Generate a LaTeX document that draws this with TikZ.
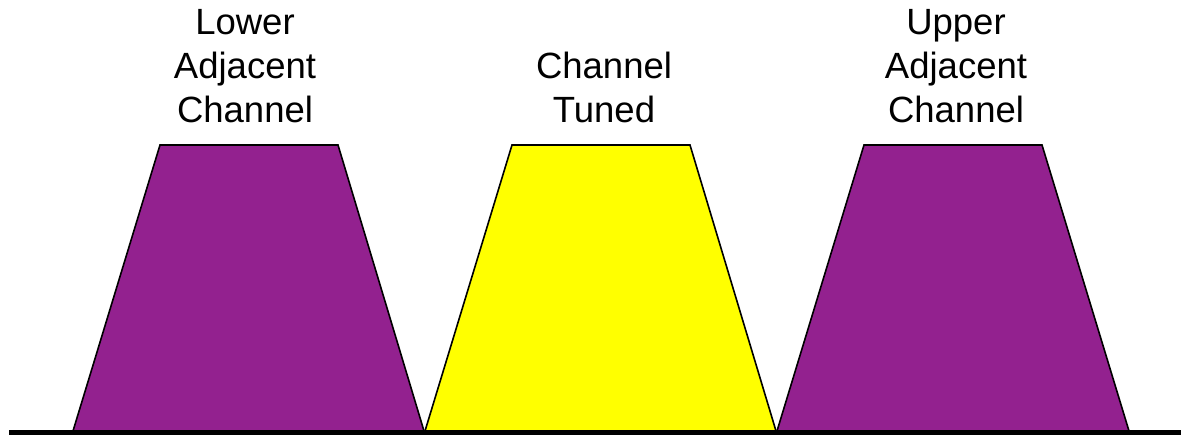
\documentclass[tikz,border=0pt]{standalone}
\usepackage{fontspec}
\setmainfont{Liberation Sans}
\definecolor{adjpurple}{HTML}{93218F}
\definecolor{tunedyellow}{HTML}{FFFF00}
\begin{document}
\begin{tikzpicture}[x=1pt,y=-1pt,
  band/.style={draw=black,line width=1.6pt,line join=miter},
  label/.style={align=center,anchor=base,inner sep=0pt,
    font=\fontsize{36.5}{44}\selectfont}]
\useasboundingbox (0,0) rectangle (1181,435);
% channel passbands
\draw[band,fill=adjpurple] (73,431) -- (160,145) -- (338,145) -- (424,431) -- cycle;
\draw[band,fill=tunedyellow] (425,431) -- (512,145) -- (690,145) -- (776,431) -- cycle;
\draw[band,fill=adjpurple] (777,431) -- (864,145) -- (1042,145) -- (1129,431) -- cycle;
% frequency axis
\coordinate (axL) at (9,432.5);
\coordinate (axR) at (1181,432.5);
\draw[line width=5pt] (axL) -- (axR);
% labels (anchored at the baseline of their last line)
\node[label] (lower) at (245,122.5) {Lower\\Adjacent\\Channel};
\node[label] (tuned) at (604,122.5) {Channel\\Tuned};
\node[label] (upper) at (956,122.5) {Upper\\Adjacent\\Channel};
\end{tikzpicture}
\end{document}
